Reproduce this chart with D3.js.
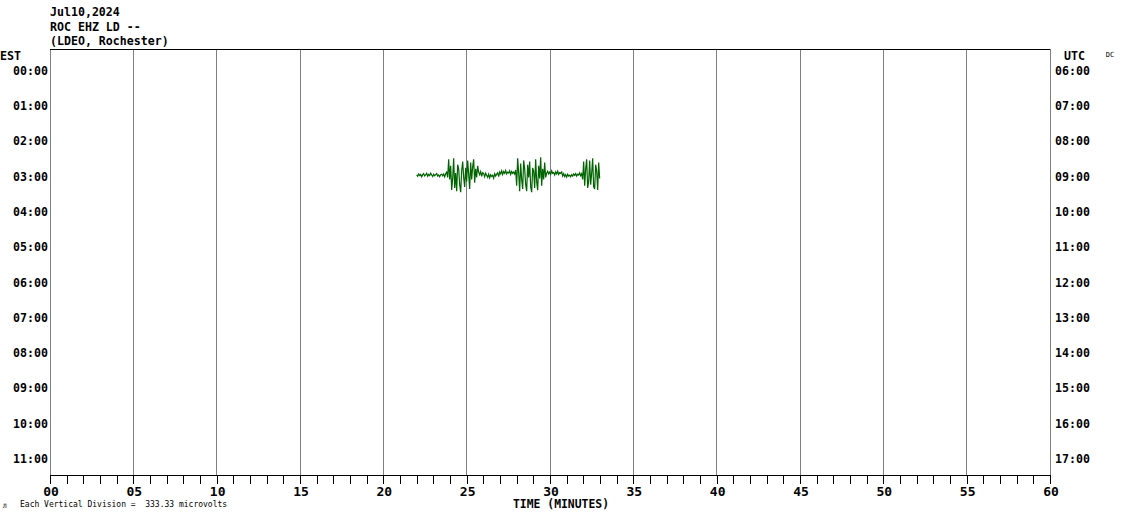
<!DOCTYPE html>
<html><head><meta charset="utf-8">
<script src="https://cdn.jsdelivr.net/npm/d3@7"></script>
<style>
body{margin:0;background:#fff;}
svg text{font-family:"DejaVu Sans Mono",monospace;}
</style></head>
<body><svg id="c" width="1130" height="519"></svg>
<script>
const headerLines = ["Jul10,2024", "ROC EHZ LD --", "(LDEO, Rochester)"];
const estLabels = ["00:00","01:00","02:00","03:00","04:00","05:00","06:00","07:00","08:00","09:00","10:00","11:00"];
const utcLabels = ["06:00","07:00","08:00","09:00","10:00","11:00","12:00","13:00","14:00","15:00","16:00","17:00"];
const minuteTicks = d3.range(0, 61);
const gridMinutes = [5,10,15,20,25,30,35,40,45,50,55];
const microvoltsPerDivision = 333.33;
// trace segment in row 03:00, from minute 22.0, one sample every 0.06 min (microvolts, up positive)
const traceRow = 3;
const traceStart = 22.0;
const traceStep = 0.06;
const traceValues = [
 5,-10,12,-3,8,-14,5,15,-6,3,18,-10,8,-4,20,2,-12,10,-5,6,16,-8,3,-14,5,10,-6,12,-15,14,
 30,-20,150,-40,90,-140,-30,160,-120,20,-150,100,60,-90,-160,40,130,-20,-110,70,-60,140,10,-130,120,-40,80,150,-70,60,-20,90,
 30,5,35,-10,25,15,-15,20,0,-20,10,-25,5,-12,0,-28,15,-8,10,22,-12,30,12,42,8,35,18,45,12,30,22,42,8,35,18,30,12,
 50,-100,160,20,-150,110,-40,-130,140,60,-90,-150,100,-20,130,-110,-160,70,40,-120,150,-60,-140,90,-30,170,-100,60,-40,120,-20,
 20,38,12,30,8,42,18,25,2,32,12,38,8,25,18,32,-8,15,-12,5,-18,10,-8,0,-14,5,-8,12,-2,15,-8,10,2,22,-4,15,
 -40,130,-100,60,150,-120,-60,140,-90,20,160,-110,-130,100,40,-140,120,-30
];

const svg = d3.select("#c");
const L = 50, R = 1050, T = 49, B = 475;
const x = d3.scaleLinear().domain([0, 60]).range([L, R]);
const yRow = d3.scaleLinear().domain([-0.58, 11.5]).range([T, B]);
const divPx = yRow(1) - yRow(0);
const amp = d3.scaleLinear().domain([0, microvoltsPerDivision]).range([0, divPx]);

// header
svg.selectAll("text.hdr").data(headerLines).join("text")
  .attr("x", 50).attr("y", (d,i) => 16 + i*14.5)
  .attr("font-size", 11.6).attr("font-weight", "bold").text(d => d);

// grid lines
svg.selectAll("line.grid").data(gridMinutes).join("line")
  .attr("x1", d => x(d)).attr("x2", d => x(d)).attr("y1", T).attr("y2", B)
  .attr("stroke", "#808080").attr("stroke-width", 1).attr("shape-rendering","crispEdges");
// borders
svg.append("line").attr("x1", L).attr("x2", L).attr("y1", T).attr("y2", B).attr("stroke","#808080").attr("shape-rendering","crispEdges");
svg.append("line").attr("x1", R).attr("x2", R).attr("y1", T).attr("y2", B).attr("stroke","#808080").attr("shape-rendering","crispEdges");
svg.append("line").attr("x1", L).attr("x2", R).attr("y1", T).attr("y2", T).attr("stroke","#000").attr("shape-rendering","crispEdges");

// bottom axis
const axis = d3.axisBottom(x).tickValues(minuteTicks).tickSize(9).tickSizeOuter(0).tickFormat("");
const ag = svg.append("g").attr("transform", `translate(0,${B})`).call(axis);
ag.selectAll("path,line").attr("stroke", "#000").attr("shape-rendering","crispEdges");
svg.selectAll("text.xl").data(minuteTicks.filter(d => d % 5 === 0)).join("text")
  .attr("x", d => x(d) + 1).attr("y", 496).attr("text-anchor","middle")
  .attr("font-size", 13).attr("font-weight","bold").text(d => String(d).padStart(2,"0"));
svg.append("text").attr("x", 561).attr("y", 508).attr("text-anchor","middle")
  .attr("font-size", 11.4).attr("font-weight","bold").text("TIME (MINUTES)");

// row labels
svg.append("text").attr("x", 0).attr("y", 60).attr("font-size", 11.6).attr("font-weight","bold").text("EST");
svg.append("text").attr("x", 1064).attr("y", 60).attr("font-size", 11.6).attr("font-weight","bold").text("UTC");
svg.append("text").attr("x", 1110).attr("y", 57).attr("text-anchor","middle").attr("font-size", 7).attr("fill","#000").text("DC");
svg.selectAll("text.est").data(estLabels).join("text")
  .attr("x", 48).attr("y", (d,i) => yRow(i) + 5.5).attr("text-anchor","end")
  .attr("font-size", 11.6).attr("font-weight","bold").text(d => d);
svg.selectAll("text.utc").data(utcLabels).join("text")
  .attr("x", 1055).attr("y", (d,i) => yRow(i) + 5.5)
  .attr("font-size", 11.6).attr("font-weight","bold").text(d => d);

// footer
svg.append("text").attr("x", 3).attr("y", 508).attr("font-size", 6).text("Л");
svg.append("text").attr("x", 20).attr("y", 507).attr("font-size", 8).attr("xml:space","preserve")
  .text("Each Vertical Division =  333.33 microvolts");

// trace
const line = d3.line()
  .x((d,i) => x(traceStart + i*traceStep))
  .y(d => yRow(traceRow) - amp(d));
svg.append("path").datum(traceValues).attr("d", line)
  .attr("fill","none").attr("stroke","#006400").attr("stroke-width",1.2);
</script></body></html>
